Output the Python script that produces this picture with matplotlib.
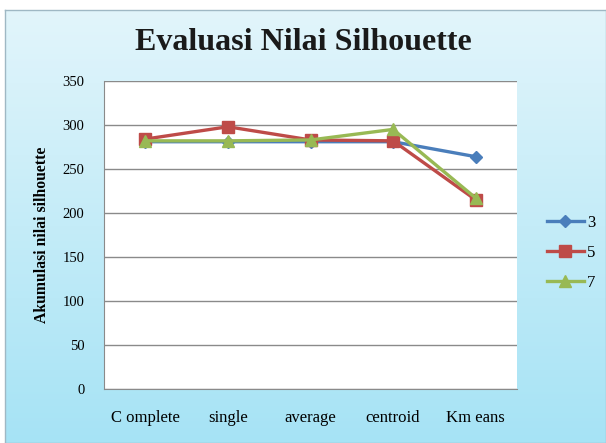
import numpy as np
import matplotlib
matplotlib.use("Agg")
import matplotlib.pyplot as plt
from matplotlib.colors import LinearSegmentedColormap

categories = ["C omplete", "single", "average", "centroid", "Km eans"]
series_names = ["3", "5", "7"]
values_3 = [281, 281, 281, 281, 264]
values_5 = [284, 298, 283, 282, 215]
values_7 = [282, 282, 283, 295, 217]

colors = ["#4A7EBB", "#BE4B48", "#98B954"]
markers = ["D", "s", "^"]
msizes = [6, 8, 8]

serif = ["Liberation Serif", "DejaVu Serif"]

fig = plt.figure(figsize=(6.06, 4.43), dpi=100)

# light blue chart background with gradient
bg = fig.add_axes([0.008, 0.0, 0.992, 1 - 10 / 443])
cmap = LinearSegmentedColormap.from_list("bg", ["#e2f5fb", "#a6e3f5"])
grad = np.linspace(0, 1, 256).reshape(-1, 1)
bg.imshow(grad, aspect="auto", cmap=cmap, extent=[0, 1, 0, 1], origin="upper")
bg.set_xlim(0, 1)
bg.set_ylim(0, 1)
for s in bg.spines.values():
    s.set_color("#9fb8c4")
    s.set_linewidth(1)
bg.set_xticks([])
bg.set_yticks([])

ax = fig.add_axes([104 / 606, 1 - 389 / 443, (517 - 104) / 606, (389 - 81) / 443])
ax.set_facecolor("white")

x = np.arange(len(categories))
lines = []
for vals, c, m, ms in zip([values_3, values_5, values_7], colors, markers, msizes):
    ln, = ax.plot(x, vals, color=c, marker=m, markersize=ms, linewidth=2.4,
                  markeredgecolor=c, zorder=3)
    lines.append(ln)

ax.set_xlim(-0.5, len(categories) - 0.5)
ax.set_ylim(0, 350)
ax.set_yticks(range(0, 351, 50))
ax.set_xticks(x)
ax.set_xticklabels(categories, fontfamily=serif, fontsize=12)
for lbl in ax.get_yticklabels():
    lbl.set_fontfamily(serif)
    lbl.set_fontsize(10.5)
ax.tick_params(axis="y", length=0, pad=14)
ax.tick_params(axis="x", length=0, pad=15)
ax.yaxis.grid(True, color="#8a8a8a", linewidth=1)
ax.set_axisbelow(True)
for side in ["top", "right"]:
    ax.spines[side].set_visible(False)
ax.spines["left"].set_color("#8a8a8a")
ax.spines["bottom"].set_color("#8a8a8a")

ax.set_ylabel("Akumulasi nilai silhouette", fontfamily=serif, fontweight="bold",
              fontsize=11.3, labelpad=9)

fig.text(303 / 606, 1 - 43 / 443, "Evaluasi Nilai Silhouette", ha="center",
         va="center", fontfamily=serif, fontweight="bold", fontsize=23,
         color="#1a1a1a")

leg = fig.legend(lines, series_names, loc="center left",
                 bbox_to_anchor=(532 / 606, 1 - 253 / 443), frameon=False,
                 prop={"family": serif, "size": 12}, handlelength=2.2,
                 labelspacing=0.85, handletextpad=0.2)

fig.savefig("out.png", dpi=100)
